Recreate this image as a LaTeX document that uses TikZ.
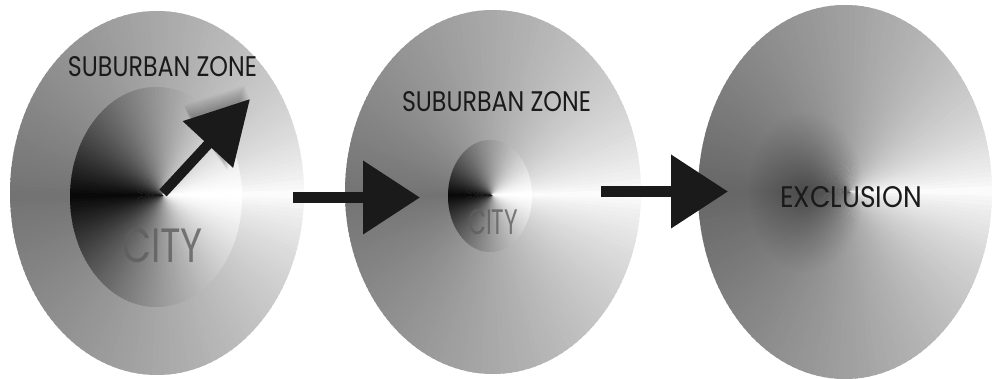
\documentclass[tikz,border=0pt]{standalone}
\usepackage{fontspec}
\usetikzlibrary{arrows.meta,fadings}
\newfontfamily\geo{Poppins}
\definecolor{ink}{HTML}{1A1A1A}
\definecolor{citygray}{HTML}{5E5E5E}
\tikzfading[name=softspot, inner color=transparent!0, outer color=transparent!100]
\newcommand{\conewedges}[6]{% #1 centre, #2 rx, #3 ry, #4 apex, #5 depth, #6 power
  \begin{scope}
    \clip #1 ellipse [x radius=#2, y radius=#3];
    \foreach \a in {0,2,...,358}{
      \pgfmathsetmacro{\dd}{min(\a+1,359-\a)}
      \pgfmathsetmacro{\pc}{100*#5*(\dd/180)^#6}
      \fill[black!\pc] #4 -- +(\a-0.4:420) -- +(\a+2.4:420) -- cycle;
    }
  \end{scope}}
\tikzset{
  bigarrow/.style={draw=ink, line width=11pt, -{Triangle[length=57pt,width=71pt]}},
  diagarrow/.style={draw=ink, line width=10pt, -{Triangle[length=62pt,width=66pt]}},
  label/.style={inner sep=0pt, text=ink},
  citylabel/.style={inner sep=0pt, text=citygray, opacity=0.8}
}
\begin{document}
\begin{tikzpicture}[x=1pt,y=-1pt]
  \fill[white] (0,0) rectangle (993,379);
  \useasboundingbox (0,0) rectangle (993,379);
  % ellipse 1 (suburban zone + city)
  \conewedges{(157,193)}{147}{182}{(163,195)}{0.55}{0.7}
  \conewedges{(156,197)}{86}{110}{(163,195)}{0.97}{1.3}
  % ellipse 2
  \conewedges{(493,192)}{148}{182}{(492,195)}{0.55}{0.7}
  \conewedges{(490,196)}{42}{56}{(492,195)}{0.97}{1.3}
  % ellipse 3
  \conewedges{(845,192)}{147}{187}{(850,192)}{0.6}{0.7}
  \begin{scope}
    \clip (845,192) ellipse [x radius=147, y radius=187];
    \fill[black, opacity=0.28, path fading=softspot] (805,192) ellipse [x radius=58, y radius=80];
  \end{scope}
  % labels
  \node[label] (sz1) at (162.5,67) {\resizebox{189pt}{20pt}{\geo SUBURBAN ZONE}};
  \node[label] (sz2) at (496.5,102) {\resizebox{189pt}{20pt}{\geo SUBURBAN ZONE}};
  \node[citylabel] (city1) at (162.5,245.5) {\resizebox{81pt}{34pt}{\geo CITY}};
  \node[citylabel] (city2) at (493,222.5) {\resizebox{50pt}{25pt}{\geo CITY}};
  \node[label] (excl) at (851,197) {\resizebox{142pt}{21pt}{\geo EXCLUSION}};
  % arrow inside ellipse 1 with soft shadow on its head
  \coordinate (a1s) at (163,193);
  \coordinate (a1e) at (250,99);
  \foreach \s in {1.5,3,...,13.5}{
    \fill[black,opacity=0.035] (189-0.4*\s,119-\s) -- (250-0.4*\s,99-\s) -- (228-0.4*\s,172-\s) -- cycle;
  }
  \draw[diagarrow] (a1s) -- (a1e);
  % arrows between the ellipses
  \coordinate (a2s) at (293,197.5);
  \coordinate (a2e) at (420,197.5);
  \draw[bigarrow] (a2s) -- (a2e);
  \coordinate (a3s) at (601,191.5);
  \coordinate (a3e) at (728,191.5);
  \draw[bigarrow] (a3s) -- (a3e);
\end{tikzpicture}
\end{document}
